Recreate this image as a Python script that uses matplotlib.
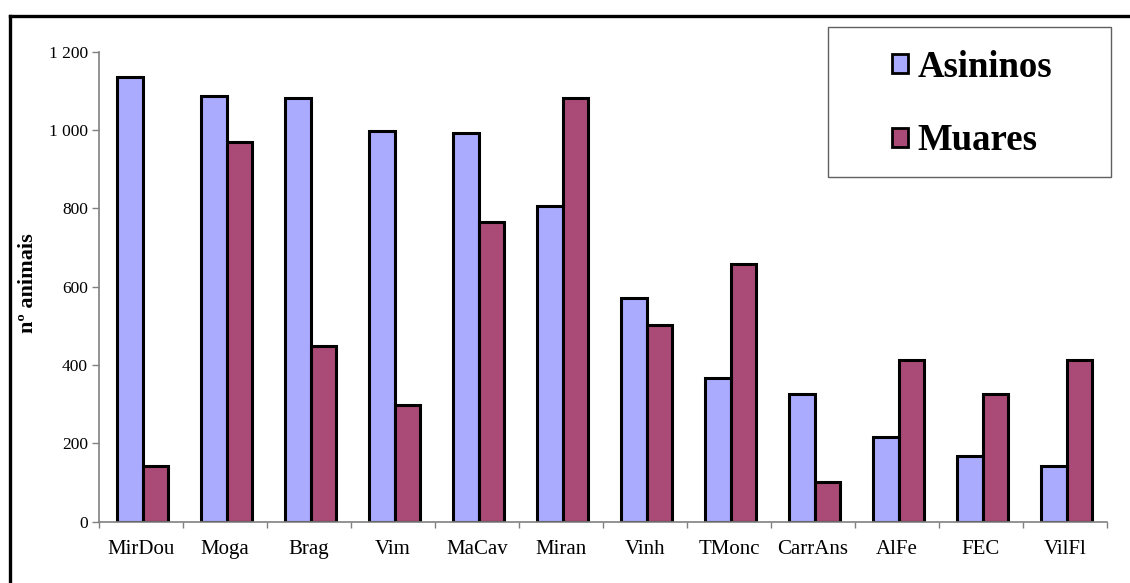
import matplotlib
matplotlib.use("Agg")
import matplotlib.pyplot as plt
import numpy as np
from matplotlib.lines import Line2D
from matplotlib.patches import Rectangle, Patch

plt.rcParams['font.family'] = ['Liberation Serif', 'DejaVu Serif']

# data
municipios = ['MirDou', 'Moga', 'Brag', 'Vim', 'MaCav', 'Miran',
              'Vinh', 'TMonc', 'CarrAns', 'AlFe', 'FEC', 'VilFl']
asininos = [1135, 1087, 1083, 998, 992, 806, 570, 367, 327, 216, 168, 142]
muares = [142, 971, 448, 299, 766, 1082, 502, 658, 101, 413, 327, 413]
series_names = ['Asininos', 'Muares']
yticks = [0, 200, 400, 600, 800, 1000, 1200]
ytick_labels = ['0', '200', '400', '600', '800', '1 000', '1 200']

cor_asin = '#AAAAFF'
cor_muar = '#AA4A76'

W, H = 1130, 583
fig = plt.figure(figsize=(W / 100, H / 100), dpi=100)
ax = fig.add_axes([99 / W, 1 - 521.5 / H, 1008 / W, 469.5 / H])

x = np.arange(len(municipios))
bw = 0.3
ax.bar(x - bw / 2 + 0.02, asininos, bw, color=cor_asin, edgecolor='black', linewidth=2.2)
ax.bar(x + bw / 2 + 0.02, muares, bw, color=cor_muar, edgecolor='black', linewidth=2.2)

ax.set_xlim(-0.5, len(municipios) - 0.5)
ax.set_ylim(0, 1200)

# axes look
for s in ['top', 'right']:
    ax.spines[s].set_visible(False)
for s in ['left', 'bottom']:
    ax.spines[s].set_color('#808080')
    ax.spines[s].set_linewidth(1.2)

ax.set_yticks(yticks)
ax.set_yticklabels(ytick_labels)
ax.tick_params(axis='y', length=5, width=1, color='#808080', pad=3, labelsize=12.5)

ax.set_xticks(x)
ax.set_xticklabels(municipios)
ax.set_xticks(np.arange(-0.5, len(municipios), 1), minor=True)
ax.tick_params(axis='x', which='major', length=0, pad=13, labelsize=15)
ax.tick_params(axis='x', which='minor', length=4, width=1, color='#808080')

fig.text(28 / W, 1 - 283 / H, 'nº animais', rotation=90, ha='center', va='center',
         fontsize=16, fontweight='bold')

# legend box
fig.patches.append(Rectangle((828 / W, 1 - 177 / H), 283 / W, 150 / H,
                             transform=fig.transFigure, fill=False,
                             edgecolor='#606060', linewidth=1))
handles = [Patch(facecolor=cor_asin, edgecolor='black', linewidth=2),
           Patch(facecolor=cor_muar, edgecolor='black', linewidth=2)]
fig.legend(handles, series_names, loc='center',
           bbox_to_anchor=(972 / W, 1 - 104 / H), frameon=False,
           prop={'size': 26.5, 'weight': 'bold'},
           handlelength=0.45, handleheight=0.42, handletextpad=0.25,
           labelspacing=1.05)

# outer frame
fig.add_artist(Line2D([10 / W, 10 / W], [0, 1 - 15.5 / H], transform=fig.transFigure,
                      color='black', linewidth=2.4))
fig.add_artist(Line2D([10 / W, 1], [1 - 15.5 / H, 1 - 15.5 / H], transform=fig.transFigure,
                      color='black', linewidth=2.4, solid_capstyle='projecting'))

fig.savefig('out.png', dpi=100)
